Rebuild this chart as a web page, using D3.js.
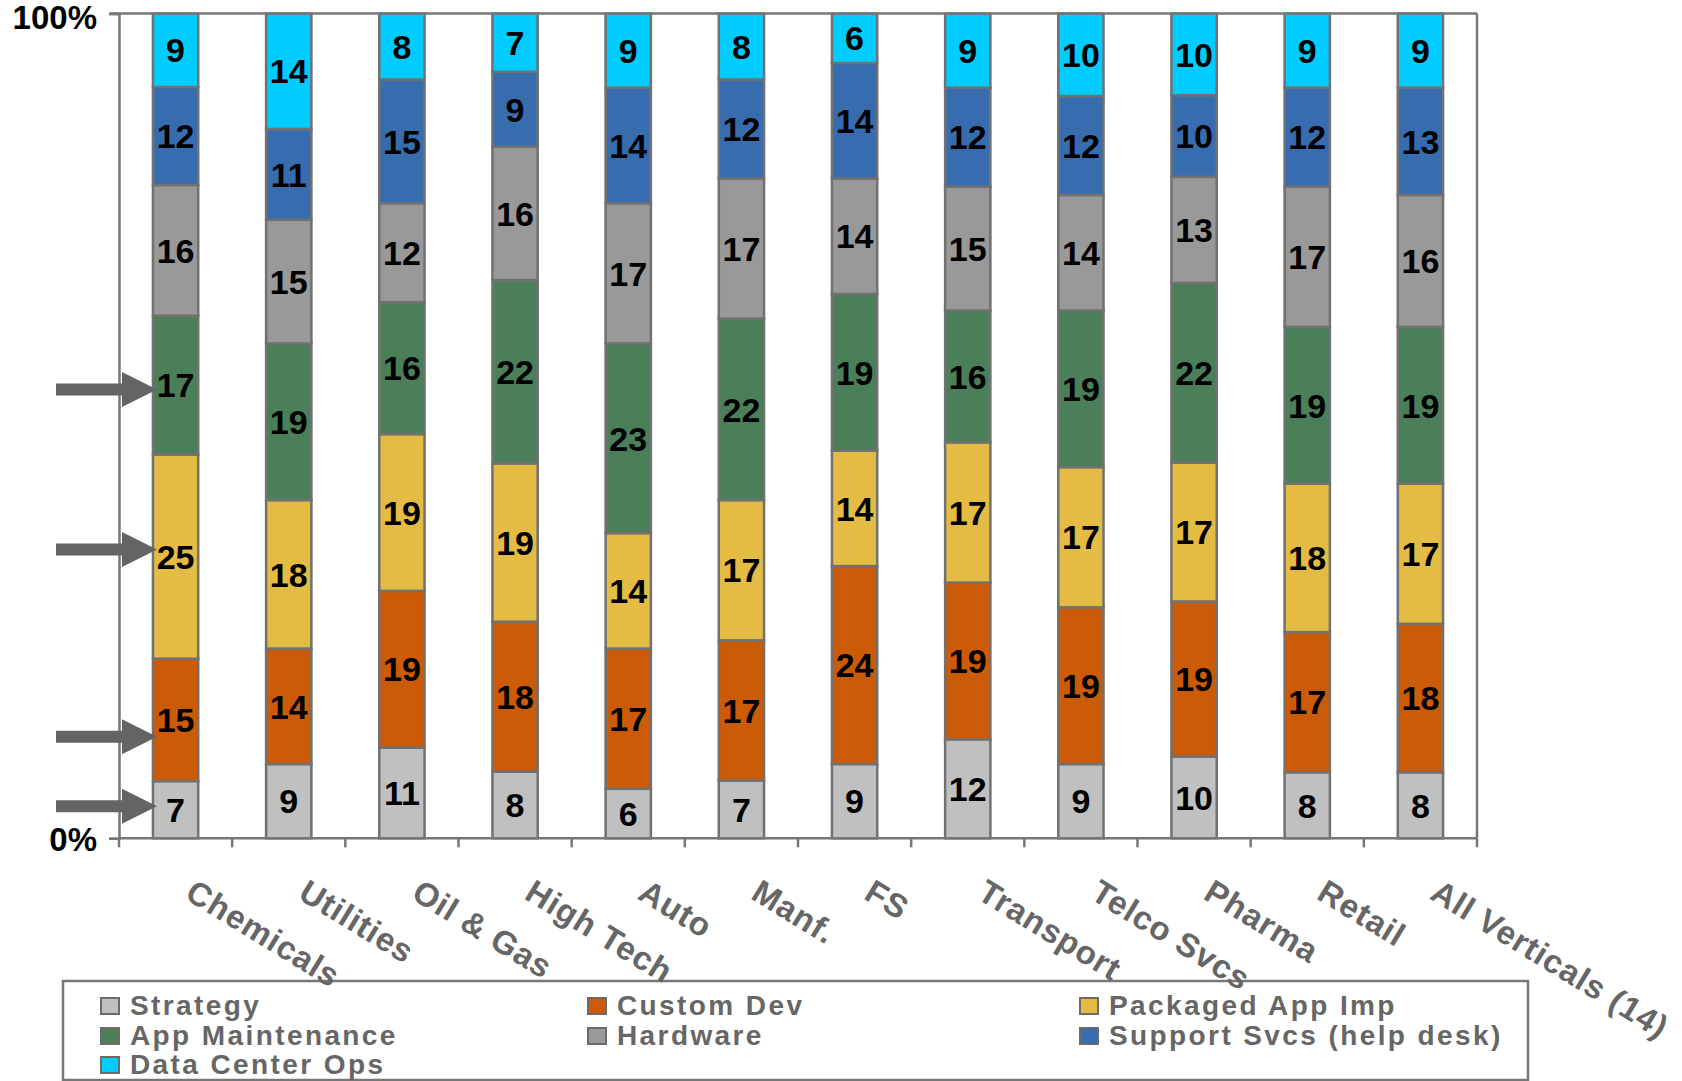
<!DOCTYPE html>
<html>
<head>
<meta charset="utf-8">
<script src="https://cdn.jsdelivr.net/npm/d3@7"></script>
<style>
  html, body { margin: 0; padding: 0; background: #fff; }
  svg { display: block; font-family: "Liberation Sans", Arial, Helvetica, sans-serif; }
</style>
</head>
<body>
<svg id="chart" width="1682" height="1081"></svg>
<script>
// Spend mix by vertical (percent of total, stacked bottom to top)
const categories = ["Chemicals", "Utilities", "Oil & Gas", "High Tech", "Auto", "Manf.",
  "FS", "Transport", "Telco Svcs", "Pharma", "Retail", "All Verticals (14)"];

const seriesNames = ["Strategy", "Custom Dev", "Packaged App Imp", "App Maintenance",
  "Hardware", "Support Svcs (help desk)", "Data Center Ops"];

const strategy       = [7, 9, 11, 8, 6, 7, 9, 12, 9, 10, 8, 8];
const customDev      = [15, 14, 19, 18, 17, 17, 24, 19, 19, 19, 17, 18];
const packagedApp    = [25, 18, 19, 19, 14, 17, 14, 17, 17, 17, 18, 17];
const appMaintenance = [17, 19, 16, 22, 23, 22, 19, 16, 19, 22, 19, 19];
const hardware       = [16, 15, 12, 16, 17, 17, 14, 15, 14, 13, 17, 16];
const supportSvcs    = [12, 11, 15, 9, 14, 12, 14, 12, 12, 10, 12, 13];
const dataCenterOps  = [9, 14, 8, 7, 9, 8, 6, 9, 10, 10, 9, 9];

const seriesColors = ["#c0c0c0", "#cc5b07", "#e5bc43", "#4b7f59", "#999999", "#376daf", "#00ccff"];

const yTickLabels = ["0%", "100%"];

// Callout arrow levels (percent of axis height)
const arrowLevels = [54.4, 35.0, 12.3, 3.9];

const seriesValues = [strategy, customDev, packagedApp, appMaintenance, hardware, supportSvcs, dataCenterOps];

const rows = categories.map((c, i) => {
  const r = { category: c };
  seriesNames.forEach((s, j) => { r[s] = seriesValues[j][i]; });
  return r;
});

const svg = d3.select("#chart");
const plotLeft = 119, plotRight = 1477, plotTop = 13.5, plotBottom = 838.3;
const axisColor = "#777777";
const textGray = "#666666";

const x = d3.scaleBand().domain(categories).range([plotLeft, plotRight])
  .paddingInner(0.6).paddingOuter(0.3);
const step = x.step();
const y = d3.scaleLinear().domain([0, 1]).range([plotBottom, plotTop]);
const yPct = d3.scaleLinear().domain([0, 100]).range([plotBottom, plotTop]);
const color = d3.scaleOrdinal().domain(seriesNames).range(seriesColors);

const stacked = d3.stack().keys(seriesNames).offset(d3.stackOffsetExpand)(rows);

// Bars
const layers = svg.append("g").selectAll("g").data(stacked).join("g")
  .attr("fill", d => color(d.key));

layers.selectAll("rect").data(d => d).join("rect")
  .attr("x", d => x(d.data.category))
  .attr("width", x.bandwidth())
  .attr("y", d => y(d[1]))
  .attr("height", d => y(d[0]) - y(d[1]))
  .attr("stroke", "#717171")
  .attr("stroke-width", 2.5);

// Segment value labels
layers.selectAll("text").data(d => d.map(p => ({ p, key: d.key }))).join("text")
  .attr("x", d => x(d.p.data.category) + x.bandwidth() / 2)
  .attr("y", d => (y(d.p[0]) + y(d.p[1])) / 2)
  .attr("dy", "0.36em")
  .attr("text-anchor", "middle")
  .attr("font-size", 34)
  .attr("font-weight", "bold")
  .attr("fill", "#000")
  .text(d => d.p.data[d.key]);

// Plot frame: top and right edges
svg.append("line").attr("x1", plotLeft - 9).attr("x2", plotRight).attr("y1", plotTop).attr("y2", plotTop)
  .attr("stroke", axisColor).attr("stroke-width", 2.5);
svg.append("line").attr("x1", plotRight).attr("x2", plotRight).attr("y1", plotTop).attr("y2", plotBottom)
  .attr("stroke", axisColor).attr("stroke-width", 2.5);

// Y axis
const yAxis = d3.axisLeft(yPct).tickValues([0, 100]).tickFormat((d, i) => yTickLabels[i])
  .tickSize(10).tickPadding(12);
const gy = svg.append("g").attr("transform", `translate(${plotLeft},0)`).call(yAxis);
gy.select(".domain").attr("stroke", axisColor).attr("stroke-width", 2.5);
gy.selectAll(".tick line").attr("stroke", axisColor).attr("stroke-width", 2.5);
gy.selectAll(".tick text").attr("font-size", 33).attr("font-weight", "bold")
  .attr("fill", "#000").attr("font-family", "'Liberation Sans', Arial, sans-serif")
  .attr("dy", d => d === 100 ? "0.46em" : "0.36em");

// X axis: baseline with boundary ticks
const boundaries = d3.range(categories.length + 1).map(i => plotLeft + i * step);
svg.append("line").attr("x1", plotLeft).attr("x2", plotRight).attr("y1", plotBottom).attr("y2", plotBottom)
  .attr("stroke", axisColor).attr("stroke-width", 2.5);
svg.append("g").selectAll("line").data(boundaries).join("line")
  .attr("x1", d => d).attr("x2", d => d).attr("y1", plotBottom).attr("y2", plotBottom + 9)
  .attr("stroke", axisColor).attr("stroke-width", 2.5);

// Callout arrows pointing at the first column
const arrowPath = yv => {
  const yc = yPct(yv);
  const x0 = 56, xb = 122, xt = 157, sh = 6, hh = 17.5;
  return `M${x0},${yc - sh}L${xb},${yc - sh}L${xb},${yc - hh}L${xt},${yc}L${xb},${yc + hh}L${xb},${yc + sh}L${x0},${yc + sh}Z`;
};
svg.append("g").selectAll("path").data(arrowLevels).join("path")
  .attr("d", arrowPath)
  .attr("fill", "#646464");

// Legend
const legend = svg.append("g");
legend.append("rect").attr("x", 63).attr("y", 981).attr("width", 1465).attr("height", 99)
  .attr("fill", "#fff").attr("stroke", axisColor).attr("stroke-width", 2.5);

const colSwatchX = [101, 588, 1080];
const rowBase = [1015, 1045, 1074];
const items = legend.selectAll("g.item").data(seriesNames).join("g").attr("class", "item")
  .attr("transform", (d, i) => `translate(${colSwatchX[i % 3]},${rowBase[Math.floor(i / 3)]})`);
items.append("rect").attr("x", 0).attr("y", -17).attr("width", 18).attr("height", 16)
  .attr("fill", d => color(d)).attr("stroke", "#6b6b6b").attr("stroke-width", 2);
items.append("text").attr("x", 29).attr("y", 0)
  .attr("font-size", 28).attr("font-weight", "bold").attr("letter-spacing", 2.4)
  .attr("fill", textGray).text(d => d);

// Rotated category labels (drawn last so they overlap the legend frame)
svg.append("g").selectAll("text").data(categories).join("text")
  .attr("transform", d => `translate(${x(d) + x.bandwidth() / 2 + 8},898) rotate(31.5)`)
  .attr("text-anchor", "start")
  .attr("font-size", 33)
  .attr("font-weight", "bold")
  .attr("letter-spacing", 0.9)
  .attr("fill", textGray)
  .text(d => d);
</script>
</body>
</html>
